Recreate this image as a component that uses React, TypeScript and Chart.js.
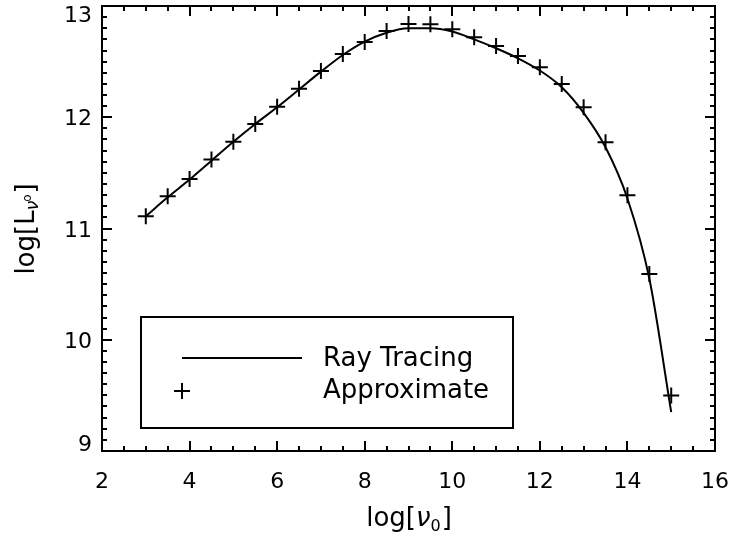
import { useEffect, useRef } from "react";
import { Chart, registerables } from "chart.js";

Chart.register(...registerables);

// log frequency grid (x) shared by both curves
const logNu = [3, 3.5, 4, 4.5, 5, 5.5, 6, 6.5, 7, 7.5, 8, 8.5, 9, 9.5, 10, 10.5, 11, 11.5, 12, 12.5, 13, 13.5, 14, 14.5, 15];

// full ray-tracing luminance (solid line)
const rayTracing = [11.11, 11.28, 11.44, 11.61, 11.78, 11.94, 12.09, 12.25, 12.41, 12.56, 12.68, 12.76, 12.8, 12.8, 12.77, 12.7, 12.62, 12.53, 12.42, 12.27, 12.04, 11.73, 11.27, 10.55, 9.35];

// approximate luminance (plus markers)
const approximate = [11.11, 11.29, 11.445, 11.62, 11.78, 11.94, 12.095, 12.257, 12.416, 12.569, 12.676, 12.775, 12.838, 12.835, 12.79, 12.72, 12.64, 12.55, 12.45, 12.3, 12.09, 11.775, 11.3, 10.59, 9.5];

const xRange = [2, 16];
const yRange = [9, 13];
const xMajorStep = 2;
const xMinorStep = 0.5;
const yMajorStep = 1;
const yMinorStep = 0.1;

const seriesLabels = ["Ray Tracing", "Approximate"];
const xTitle = { main: "log[", sym: "\u03BD", sub: "0", end: "]" };
const yTitle = { main: "log[L", sym: "\u03BD", sub: "o", end: "]" };

const FAMILY = "'DejaVu Sans', sans-serif";
const TICK_SIZE = 22;
const TITLE_SIZE = 26;
const TICK_FONT = `${TICK_SIZE}px ${FAMILY}`;
const TITLE_FONT = `${TITLE_SIZE}px ${FAMILY}`;
const LEGEND_FONT = `26px ${FAMILY}`;

const framePlugin = {
  id: "idlFrame",
  afterDraw(chart: any) {
    const ctx: CanvasRenderingContext2D = chart.ctx;
    const { left, right, top, bottom } = chart.chartArea;
    const xs = chart.scales.x;
    const ys = chart.scales.y;
    ctx.save();
    ctx.strokeStyle = "#000";
    ctx.fillStyle = "#000";
    ctx.lineWidth = 2;
    ctx.lineCap = "butt";
    ctx.strokeRect(left, top, right - left, bottom - top);

    // inward ticks on all four sides
    ctx.beginPath();
    const nx = Math.round((xRange[1] - xRange[0]) / xMinorStep);
    for (let i = 1; i < nx; i++) {
      const v = xRange[0] + i * xMinorStep;
      const major = Math.abs(v / xMajorStep - Math.round(v / xMajorStep)) < 1e-6;
      const len = major ? 10 : 5;
      const px = Math.round(xs.getPixelForValue(v));
      ctx.moveTo(px, bottom);
      ctx.lineTo(px, bottom - len);
      ctx.moveTo(px, top);
      ctx.lineTo(px, top + len);
    }
    const ny = Math.round((yRange[1] - yRange[0]) / yMinorStep);
    for (let i = 1; i < ny; i++) {
      const v = yRange[0] + i * yMinorStep;
      const major = Math.abs(v / yMajorStep - Math.round(v / yMajorStep)) < 1e-6;
      const len = major ? 10 : 5;
      const py = Math.round(ys.getPixelForValue(v));
      ctx.moveTo(left, py);
      ctx.lineTo(left + len, py);
      ctx.moveTo(right, py);
      ctx.lineTo(right - len, py);
    }
    ctx.stroke();

    // tick labels
    ctx.font = TICK_FONT;
    ctx.textBaseline = "alphabetic";
    const capH = TICK_SIZE * 0.729;
    ctx.textAlign = "right";
    for (const t of ys.ticks) {
      const py = ys.getPixelForValue(t.value);
      const cy = Math.min(Math.max(py, top + 8), bottom - 8);
      ctx.fillText(String(t.value), left - 10, cy + capH / 2);
    }
    ctx.textAlign = "center";
    for (const t of xs.ticks) {
      const px = xs.getPixelForValue(t.value);
      ctx.fillText(String(t.value), px, 488);
    }

    // x title: log[ν0]
    ctx.textAlign = "left";
    {
      ctx.font = TITLE_FONT;
      const w1 = ctx.measureText(xTitle.main).width;
      ctx.font = `italic ${TITLE_SIZE}px ${FAMILY}`;
      const w2 = ctx.measureText(xTitle.sym).width;
      ctx.font = `16px ${FAMILY}`;
      const w3 = ctx.measureText(xTitle.sub).width;
      ctx.font = TITLE_FONT;
      const w4 = ctx.measureText(xTitle.end).width;
      const total = w1 + w2 + w3 + w4 + 1;
      let x = 409 - total / 2;
      const base = 526;
      ctx.font = TITLE_FONT;
      ctx.fillText(xTitle.main, x, base);
      x += w1;
      ctx.font = `italic ${TITLE_SIZE}px ${FAMILY}`;
      ctx.fillText(xTitle.sym, x, base);
      x += w2;
      ctx.font = `16px ${FAMILY}`;
      ctx.fillText(xTitle.sub, x, base + 5);
      x += w3 + 1;
      ctx.font = TITLE_FONT;
      ctx.fillText(xTitle.end, x, base);
    }

    // y title: log[Lνo], rotated
    {
      ctx.save();
      ctx.translate(34, 229);
      ctx.rotate(-Math.PI / 2);
      ctx.font = TITLE_FONT;
      const w1 = ctx.measureText(yTitle.main).width;
      ctx.font = `italic 17px ${FAMILY}`;
      const w2 = ctx.measureText(yTitle.sym).width;
      ctx.font = `12px ${FAMILY}`;
      const w3 = ctx.measureText(yTitle.sub).width;
      ctx.font = TITLE_FONT;
      const w4 = ctx.measureText(yTitle.end).width;
      const total = w1 + w2 + w3 + w4;
      let x = -total / 2;
      ctx.font = TITLE_FONT;
      ctx.fillText(yTitle.main, x, 0);
      x += w1;
      ctx.font = `italic 17px ${FAMILY}`;
      ctx.fillText(yTitle.sym, x, 4);
      x += w2;
      ctx.font = `12px ${FAMILY}`;
      ctx.fillText(yTitle.sub, x - 1, -3);
      x += w3;
      ctx.font = TITLE_FONT;
      ctx.fillText(yTitle.end, x, 0);
      ctx.restore();
    }

    // legend box
    const lx0 = 141, ly0 = 317, lx1 = 513, ly1 = 428;
    ctx.lineWidth = 2;
    ctx.strokeRect(lx0, ly0, lx1 - lx0, ly1 - ly0);
    const ds = chart.data.datasets;
    ctx.beginPath();
    ctx.moveTo(182, 358);
    ctx.lineTo(302, 358);
    ctx.stroke();
    ctx.beginPath();
    ctx.moveTo(182 - 8, 391);
    ctx.lineTo(182 + 8, 391);
    ctx.moveTo(182, 391 - 8);
    ctx.lineTo(182, 391 + 8);
    ctx.stroke();
    ctx.font = LEGEND_FONT;
    ctx.textAlign = "left";
    ctx.fillText(ds[0].label, 323, 366);
    ctx.fillText(ds[1].label, 323, 398);
    ctx.restore();
  },
};

export default function App() {
  const canvasRef = useRef<HTMLCanvasElement | null>(null);

  useEffect(() => {
    const canvas = canvasRef.current;
    if (!canvas) return;
    const chart = new Chart(canvas, {
      type: "line",
      data: {
        datasets: [
          {
            label: seriesLabels[0],
            data: logNu.map((x, i) => ({ x, y: rayTracing[i] })),
            borderColor: "#000",
            borderWidth: 2,
            pointRadius: 0,
            fill: false,
            cubicInterpolationMode: "monotone",
          },
          {
            label: seriesLabels[1],
            data: logNu.map((x, i) => ({ x, y: approximate[i] })),
            showLine: false,
            pointStyle: "cross",
            pointRadius: 8,
            pointBorderWidth: 2,
            pointBorderColor: "#000",
            pointBackgroundColor: "#000",
            borderColor: "#000",
          },
        ],
      },
      options: {
        responsive: false,
        animation: false,
        layout: { autoPadding: false, padding: { left: 0, right: 19, top: 6, bottom: 0 } },
        plugins: { legend: { display: false }, tooltip: { enabled: false } },
        scales: {
          x: {
            type: "linear",
            min: xRange[0],
            max: xRange[1],
            grid: { display: false, drawTicks: false },
            border: { display: false },
            ticks: { stepSize: xMajorStep, display: false },
            afterFit(scale: any) {
              scale.height = 86;
            },
          },
          y: {
            type: "linear",
            min: yRange[0],
            max: yRange[1],
            grid: { display: false, drawTicks: false },
            border: { display: false },
            ticks: { stepSize: yMajorStep, display: false },
            afterFit(scale: any) {
              scale.width = 102;
            },
          },
        },
      },
      plugins: [framePlugin],
    } as any);
    return () => chart.destroy();
  }, []);

  return (
    <div style={{ position: "fixed", left: 0, top: 0, width: 734, height: 537, background: "#fff" }}>
      <canvas ref={canvasRef} width={734} height={537} style={{ width: 734, height: 537, display: "block" }} />
    </div>
  );
}
